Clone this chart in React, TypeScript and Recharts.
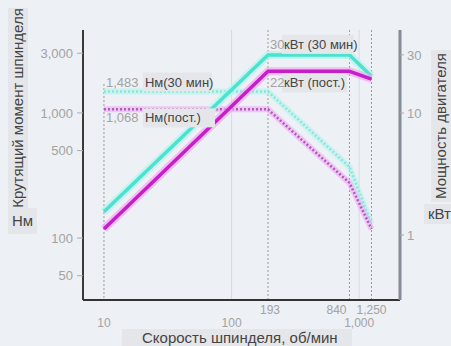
import { Line, LineChart, ReferenceDot, ReferenceLine, XAxis, YAxis } from 'recharts';

const speeds = [10, 193, 840, 1250];
const torque30 = [1483, 1483, 370, 130];
const torqueCont = [1068, 1068, 276, 118];
const power30 = [1.55, 30, 30, 20];
const powerCont = [1.12, 22, 22, 19];

const xTicks = [10, 100, 193, 840, 1000, 1250];
const torqueTicks = [50, 100, 500, 1000, 3000];
const powerTicks = [1, 10, 30];

const data = speeds.map((s, i) => ({
  speed: s,
  t30: torque30[i],
  tCont: torqueCont[i],
  p30: power30[i],
  pCont: powerCont[i],
}));

const BG = '#edf0f4';
const BOX = '#e5e6e9';
const TICK_FILL = '#a3a3a3';
const TITLE_FILL = '#444';
const FONT = "'Liberation Sans', Arial, sans-serif";

const CYAN = '#4ae3cf';
const CYAN_HALO = '#b6f4ec';
const MAGENTA = '#c61fca';
const MAGENTA_HALO = '#f1a9f1';
const CYAN_DOT = '#86e8dc';
const MAGENTA_DOT = '#ac5cbc';

const fmt = (v: number) => v.toLocaleString('en-US');

function XTick({ x, y, payload }: any) {
  const v = payload.value as number;
  const lower = v === 10 || v === 100 || v === 1000;
  const dx = v === 840 ? -13 : v === 193 ? 2 : 0;
  return (
    <text
      x={x + dx}
      y={y + (lower ? 19 : 6)}
      textAnchor="middle"
      fontSize={12}
      fontFamily={FONT}
      fill={TICK_FILL}
    >
      {fmt(v)}
    </text>
  );
}

function Note({ viewBox, num, unit, dy, boxW }: any) {
  const x = viewBox?.x ?? 0;
  const y = (viewBox?.y ?? 0) + dy;
  const numW = String(num).length > 2 ? 38 : 13;
  return (
    <g>
      <rect x={x + numW + 1} y={y - 14} width={boxW} height={19} fill={BOX} />
      <text x={x + 2} y={y} fontSize={13} fontFamily={FONT} fill={TICK_FILL}>
        {num}
      </text>
      <text x={x + numW + 3} y={y} fontSize={13} fontFamily={FONT} fill={TITLE_FILL}>
        {unit}
      </text>
    </g>
  );
}

const titleStyle = {
  position: 'absolute' as const,
  background: BOX,
  color: TITLE_FILL,
  fontFamily: FONT,
  fontSize: 15,
  lineHeight: '20px',
  whiteSpace: 'nowrap' as const,
};

export default function App() {
  return (
    <div style={{ position: 'absolute', left: 0, top: 0, width: 451, height: 346, background: BG, overflow: 'hidden' }}>
      <LineChart
        width={451}
        height={346}
        data={data}
        margin={{ top: 30, right: 11, bottom: 6, left: 23 }}
      >
        <XAxis
          dataKey="speed"
          type="number"
          scale="log"
          domain={[6.85, 2090]}
          allowDataOverflow
          ticks={xTicks}
          interval={0}
          tick={<XTick />}
          tickLine={false}
          height={40}
          axisLine={{ stroke: '#333', strokeWidth: 2 }}
        />
        <YAxis
          yAxisId="left"
          type="number"
          scale="log"
          domain={[32, 4600]}
          allowDataOverflow
          ticks={torqueTicks}
          interval={0}
          tickFormatter={fmt}
          width={60}
          tickSize={6}
          tickMargin={4}
          tick={{ fontSize: 13, fill: TICK_FILL, fontFamily: FONT }}
          tickLine={{ stroke: '#aaa' }}
          axisLine={{ stroke: '#3a3a3a', strokeWidth: 2 }}
        />
        <YAxis
          yAxisId="right"
          orientation="right"
          type="number"
          scale="log"
          domain={[0.293, 48]}
          allowDataOverflow
          ticks={powerTicks}
          interval={0}
          width={40}
          tickSize={4}
          tickMargin={3}
          tick={{ fontSize: 13, fill: TICK_FILL, fontFamily: FONT }}
          tickLine={{ stroke: '#aaa' }}
          axisLine={{ stroke: '#858b96', strokeWidth: 3 }}
        />

        <ReferenceLine
          yAxisId="left"
          segment={[{ x: 10, y: 1700 }, { x: 10, y: 32 }]}
          stroke="#999"
          strokeDasharray="2 2"
        />
        <ReferenceLine yAxisId="left" x={100} stroke="#d8dbe0" />
        <ReferenceLine yAxisId="left" x={1000} stroke="#d8dbe0" />
        <ReferenceLine yAxisId="left" x={193} stroke="#999" strokeDasharray="2 2" />
        <ReferenceLine yAxisId="left" x={840} stroke="#999" strokeDasharray="2 2" />
        <ReferenceLine yAxisId="left" x={1250} stroke="#999" strokeDasharray="2 2" />

        <Line yAxisId="left" dataKey="t30" stroke={CYAN_HALO} strokeWidth={6} strokeOpacity={0.6} dot={false} isAnimationActive={false} />
        <Line yAxisId="left" dataKey="t30" stroke={CYAN_DOT} strokeWidth={2.5} strokeDasharray="2 2" dot={false} isAnimationActive={false} />
        <Line yAxisId="left" dataKey="tCont" stroke={MAGENTA_HALO} strokeWidth={6} strokeOpacity={0.6} dot={false} isAnimationActive={false} />
        <Line yAxisId="left" dataKey="tCont" stroke={MAGENTA_DOT} strokeWidth={2.5} strokeDasharray="2 2" dot={false} isAnimationActive={false} />

        <Line yAxisId="right" dataKey="p30" stroke={CYAN_HALO} strokeWidth={8} strokeOpacity={0.7} dot={false} isAnimationActive={false} />
        <Line yAxisId="right" dataKey="p30" stroke={CYAN} strokeWidth={3.5} dot={false} isAnimationActive={false} />
        <Line yAxisId="right" dataKey="pCont" stroke={MAGENTA_HALO} strokeWidth={8} strokeOpacity={0.7} dot={false} isAnimationActive={false} />
        <Line yAxisId="right" dataKey="pCont" stroke={MAGENTA} strokeWidth={3.5} dot={false} isAnimationActive={false} />

        <ReferenceDot
          yAxisId="left"
          x={speeds[0]}
          y={torque30[0]}
          r={0}
          label={<Note num={fmt(torque30[0])} unit="Нм(30 мин)" dy={-5} boxW={69} />}
        />
        <ReferenceDot
          yAxisId="left"
          x={speeds[0]}
          y={torqueCont[0]}
          r={0}
          label={<Note num={fmt(torqueCont[0])} unit="Нм(пост.)" dy={13} boxW={72} />}
        />
        <ReferenceDot
          yAxisId="right"
          x={speeds[1]}
          y={power30[1]}
          r={0}
          label={<Note num={power30[1]} unit="кВт (30 мин)" dy={-6} boxW={72} />}
        />
        <ReferenceDot
          yAxisId="right"
          x={speeds[1]}
          y={powerCont[1]}
          r={0}
          label={<Note num={powerCont[1]} unit="кВт (пост.)" dy={16} boxW={65} />}
        />
      </LineChart>

      <div
        style={{
          ...titleStyle,
          left: 8,
          top: 8,
          width: 20,
          height: 200,
        }}
      >
        <div
          style={{
            position: 'absolute',
            left: 10,
            top: 100,
            transform: 'translate(-50%, -50%) rotate(-90deg)',
          }}
        >
          Крутящий момент шпинделя
        </div>
      </div>
      <div style={{ ...titleStyle, left: 8, top: 208, padding: '3px 4px' }}>Нм</div>

      <div
        style={{
          ...titleStyle,
          left: 431,
          top: 50,
          width: 20,
          height: 152,
        }}
      >
        <div
          style={{
            position: 'absolute',
            left: 10,
            top: 76,
            transform: 'translate(-50%, -50%) rotate(-90deg)',
          }}
        >
          Мощность двигателя
        </div>
      </div>
      <div style={{ ...titleStyle, left: 424, top: 204, padding: '0 4px' }}>кВт</div>

      <div style={{ ...titleStyle, left: 122, top: 329, lineHeight: '17px', padding: '0 14px 0 20px' }}>
        Скорость шпинделя, об/мин
      </div>
    </div>
  );
}
